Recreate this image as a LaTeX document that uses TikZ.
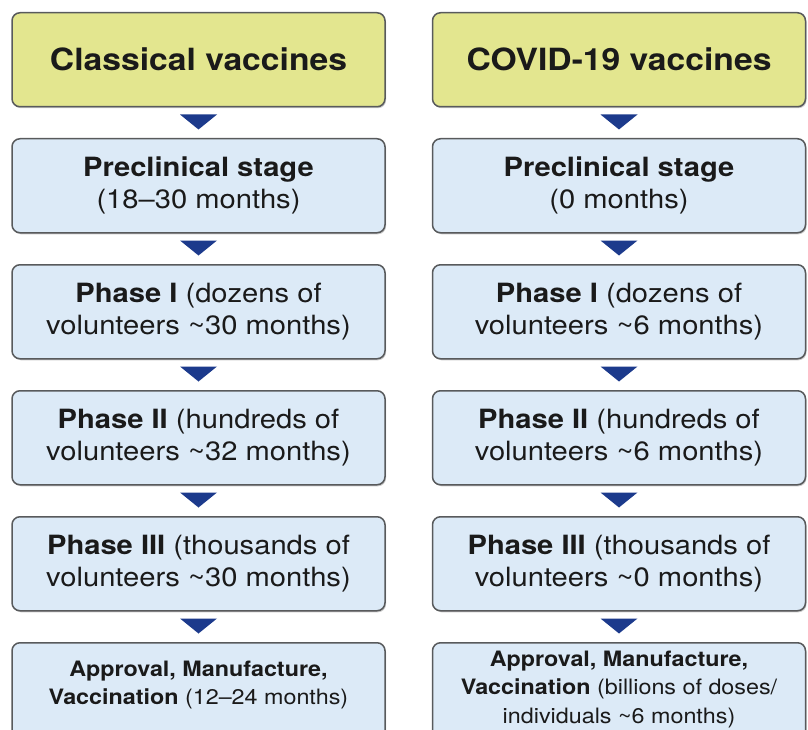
\documentclass[tikz,border=0pt]{standalone}
\usepackage{fontspec}
\setmainfont[FakeStretch=1.1]{TeX Gyre Heros}
\usetikzlibrary{calc,shadows}
\definecolor{hdrfill}{RGB}{227,230,143}
\definecolor{boxfill}{RGB}{220,234,247}
\definecolor{boxline}{RGB}{88,90,92}
\definecolor{tri}{RGB}{28,58,140}
\definecolor{ink}{RGB}{26,26,26}
\tikzset{
  box/.style={draw=boxline, line width=1.5pt, rounded corners=8pt,
    minimum width=373pt, minimum height=94pt, anchor=north,
    text=ink, align=center, inner sep=0pt,
    drop shadow={shadow xshift=1pt, shadow yshift=-1.5pt, opacity=0.35, fill=black!60}},
  hdr/.style={box, fill=hdrfill, font=\fontsize{30.6}{36}\selectfont\bfseries},
  stage/.style={box, fill=boxfill, font=\fontsize{26.5}{32}\selectfont},
  laststage/.style={box, fill=boxfill, minimum height=110pt},
  lasttext/.style={text=ink, align=center, inner sep=0pt, font=\fontsize{21.2}{28.5}\selectfont},
}
\newcommand{\downtri}[1]{\fill[tri] ($(#1.south)+(-18.5pt,-7pt)$) -- ($(#1.south)+(18.5pt,-7pt)$) -- ($(#1.south)+(0,-22pt)$) -- cycle;}
\begin{document}
\begin{tikzpicture}[x=1pt,y=1pt]
\useasboundingbox (0,0) rectangle (808,-730);
% left column
\node[hdr] (l0) at (198.5,-12) {Classical vaccines};
\node[stage] (l1) at (198.5,-138) {\textbf{Preclinical stage}\\(18–30 months)};
\node[stage] (l2) at (198.5,-264) {\textbf{Phase I} (dozens of\\volunteers \textasciitilde30 months)};
\node[stage] (l3) at (198.5,-390) {\textbf{Phase II} (hundreds of\\volunteers \textasciitilde32 months)};
\node[stage] (l4) at (198.5,-516) {\textbf{Phase III} (thousands of\\volunteers \textasciitilde30 months)};
\node[laststage] (l5) at (198.5,-642) {};
\node[lasttext] (l5t) at (198.5,-685) {\textbf{Approval, Manufacture,}\\\textbf{Vaccination} (12–24 months)};
% right column
\node[hdr] (r0) at (619,-12) {COVID-19 vaccines};
\node[stage] (r1) at (619,-138) {\textbf{Preclinical stage}\\(0 months)};
\node[stage] (r2) at (619,-264) {\textbf{Phase I} (dozens of\\volunteers \textasciitilde6 months)};
\node[stage] (r3) at (619,-390) {\textbf{Phase II} (hundreds of\\volunteers \textasciitilde6 months)};
\node[stage] (r4) at (619,-516) {\textbf{Phase III} (thousands of\\volunteers \textasciitilde0 months)};
\node[laststage] (r5) at (619,-642) {};
\node[lasttext] (r5t) at (619,-689.5) {\textbf{Approval, Manufacture,}\\\textbf{Vaccination} (billions of doses/\\individuals \textasciitilde6 months)};
% arrows
\downtri{l0}\downtri{l1}\downtri{l2}\downtri{l3}\downtri{l4}
\downtri{r0}\downtri{r1}\downtri{r2}\downtri{r3}\downtri{r4}
\end{tikzpicture}
\end{document}
